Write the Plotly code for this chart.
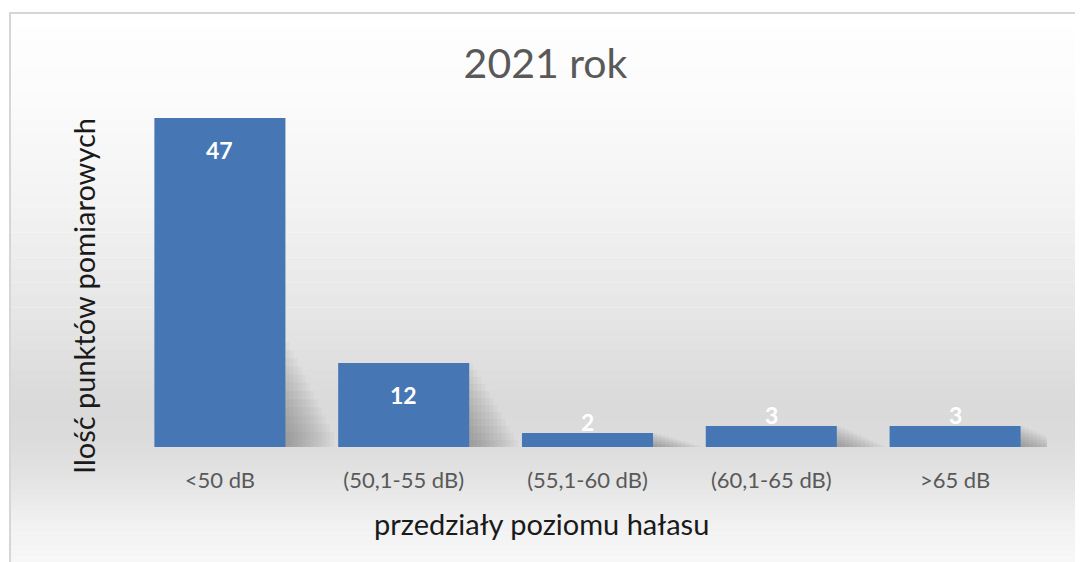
import plotly.graph_objects as go

categories = ["<50 dB", "(50,1-55 dB)", "(55,1-60 dB)", "(60,1-65 dB)", ">65 dB"]
counts = [47, 12, 2, 3, 3]

title_text = "2021 rok"
x_title = "przedziały poziomu hałasu"
y_title = "Ilość punktów pomiarowych"

FONT = "Lato, Open Sans, sans-serif"
BAR = "#4676b3"

# page body has an 8px margin, so the figure is drawn 8px smaller
W, H = 1075, 554
ml, mt, pw, ph = 120, 89, 919, 350


def py2p(py):
    # target screenshot pixel row -> paper y
    return (mt + ph - (py - 8)) / ph


def px2p(px):
    return ((px - 8) - ml) / pw


fig = go.Figure()

# soft wedge-shaped shadow to the right of each bar
n_layers = 12
for j in range(n_layers):
    f = j / n_layers
    fig.add_trace(go.Bar(
        x=categories,
        y=[min(c * (1 - f), 15 - 14 * f) for c in counts],
        marker=dict(color="rgba(70,70,70,0.035)", line=dict(width=0)),
        offset=-0.3565 + 0.022 * (j + 1),
        width=0.713,
        hoverinfo="skip",
    ))

fig.add_trace(go.Bar(
    x=categories,
    y=counts,
    marker=dict(color=BAR, line=dict(width=0)),
    offset=-0.3565,
    width=0.713,
))

annotations = []
for cat, val in zip(categories, counts):
    tall = val > 5
    annotations.append(dict(
        x=cat, y=val, xref="x", yref="y", text=str(val), showarrow=False,
        yanchor="middle", yshift=-32 if tall else 11,
        font=dict(family=FONT, size=23, color="white", weight="bold"),
    ))

annotations.append(dict(
    text=x_title, xref="paper", yref="paper", x=px2p(541), y=py2p(523),
    xanchor="center", yanchor="middle", showarrow=False,
    font=dict(family=FONT, size=29, color="#1a1a1a"),
))
annotations.append(dict(
    text=y_title, xref="paper", yref="paper", x=px2p(83), y=py2p(296),
    xanchor="center", yanchor="middle", showarrow=False, textangle=-90,
    font=dict(family=FONT, size=29, color="#1a1a1a"),
))

# background: chart area with vertical grey gradient
stops = [(13, 255), (120, 250), (220, 241), (320, 229), (400, 218), (440, 219),
         (480, 228), (520, 240), (570, 249)]
shapes = []
for i in range(len(stops) - 1):
    (y0, c0), (y1, c1) = stops[i], stops[i + 1]
    n = 8
    for k in range(n):
        ya = y0 + (y1 - y0) * k / n
        yb = y0 + (y1 - y0) * (k + 1) / n
        c = int(round(c0 + (c1 - c0) * (k + 0.5) / n))
        shapes.append(dict(type="rect", xref="paper", yref="paper",
                           x0=px2p(10), x1=1.1, y0=py2p(yb), y1=py2p(ya),
                           fillcolor=f"rgb({c},{c},{c})", line=dict(width=0),
                           layer="below"))
shapes.append(dict(type="rect", xref="paper", yref="paper",
                   x0=px2p(10), x1=1.1, y0=-0.5, y1=py2p(13),
                   fillcolor="rgba(0,0,0,0)", line=dict(color="#d6d6d6", width=2),
                   layer="below"))

fig.update_layout(
    width=W, height=H,
    margin=dict(l=ml, r=W - ml - pw, t=mt, b=H - mt - ph),
    paper_bgcolor="white",
    plot_bgcolor="rgba(0,0,0,0)",
    shapes=shapes,
    annotations=annotations,
    showlegend=False,
    barmode="overlay",
    title=dict(text=title_text, x=0.5, xref="container", xanchor="center",
               y=1 - (64 - 8) / H, yanchor="middle",
               font=dict(family=FONT, size=41, color="#595959")),
    xaxis=dict(range=[-0.5, len(categories) - 0.5], showgrid=False,
               showline=False, zeroline=False, ticks="",
               ticklabelstandoff=18,
               tickfont=dict(family=FONT, size=22, color="#595959")),
    yaxis=dict(range=[0, 50], showgrid=False, showline=False, zeroline=False,
               showticklabels=False, ticks=""),
)

fig.write_html("out.html")
